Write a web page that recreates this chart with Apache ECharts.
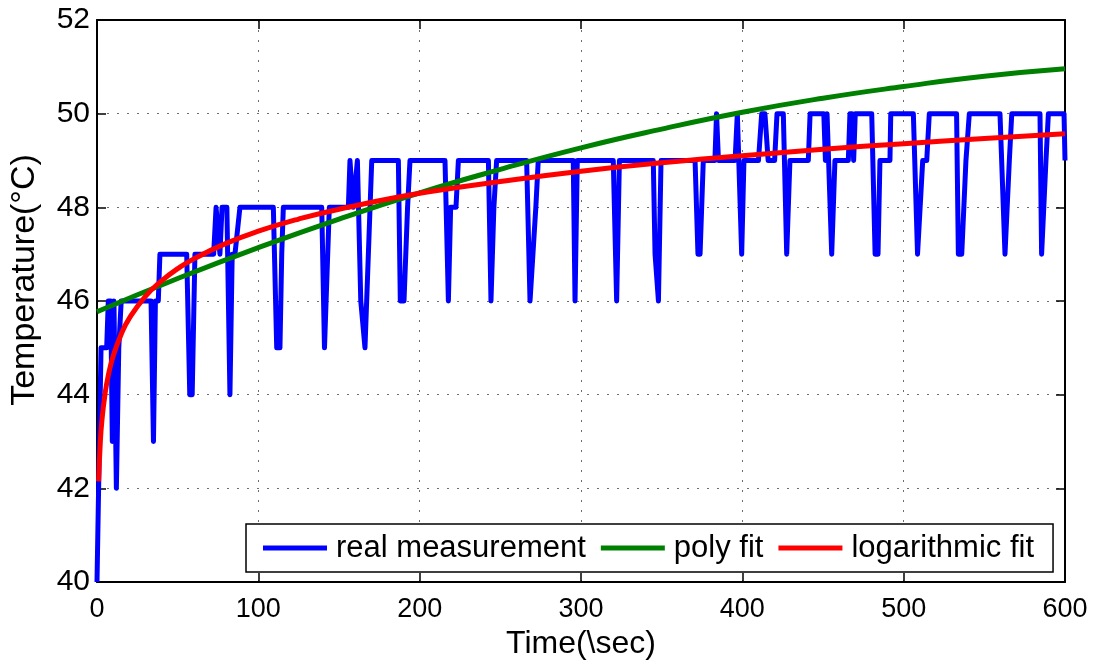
<!DOCTYPE html>
<html>
<head>
<meta charset="utf-8">
<script src="https://cdn.jsdelivr.net/npm/echarts@6/dist/echarts.min.js"></script>
<style>
html,body{margin:0;padding:0;background:#fff;}
#c{width:1096px;height:661px;}
</style>
</head>
<body>
<div id="c"></div>
<script>
// x ticks and y ticks
const xTicks = [0, 100, 200, 300, 400, 500, 600];
const yTicks = [40, 42, 44, 46, 48, 50, 52];

const measurement = [
  [0,40],[1,42],[2.5,45],[6,45],[7,46],[8.5,46],[9.5,43],[10.5,46],[12,42],[13.5,45],[15,46],
  [33.5,46],[35,43],[36.2,46],[38,46],[39,47],[55.6,47],[57.5,44],[59,44],[60.7,47],
  [72.3,47],[73.8,48],[75,48],[76.2,47],[77.5,48],[80.5,48],[82.4,44],[83.8,47],[85.5,47],[88.6,48],
  [109.3,48],[111.4,45],[113.4,45],[114.5,47],[115.5,48],[139.3,48],[141,45],[144,48],
  [155.8,48],[156.8,49],[158.8,48],[161.4,49],[163.5,46],[166.1,45],[170.3,49],
  [186.8,49],[188,46],[190.3,46],[192.5,48],[194,49],
  [215.7,49],[217.8,46],[219.2,48],[222.5,48],[224,49],
  [242.6,49],[244.2,46],[246,48],[247.7,49],
  [266.3,49],[268.4,46],[272,48],[273.5,49],
  [295.2,49],[296.3,46],[297.7,49],
  [320,49],[322.1,46],[323.8,49],
  [344.8,49],[345.9,47],[348,46],[349.6,49],
  [370.7,49],[372.5,47],[373.8,47],[375.8,49],
  [383,49],[384,50],[385.2,49],[395.5,49],[396.9,50],[399.6,47],[401,49],
  [410,49],[412,50],[414,50],[416,49],[420,49],[421.5,50],[425.4,50],[427.5,47],[429.5,49],
  [440.9,49],[442,50],[450.5,50],[451.5,49],[452.5,50],[455.4,47],[457.4,49],
  [465.7,49],[466.7,50],[468,50],[469,49],[470,50],[480.2,50],[482.3,47],[484.1,47],[485.3,49],
  [491.5,49],[492,50],[506,50],[508.6,47],[511.8,49],[514.3,49],[515.9,50],
  [532.8,50],[533.9,47],[536,47],[538.6,49],[540.7,50],
  [559.7,50],[562.8,47],[563.9,47],[565.5,49],[567,50],
  [584.5,50],[585.5,47],[586.6,47],[588.2,49],[589.7,50],[599.4,50],[600,49]
];

// poly fit: values read at sample times
const polyT = [0, 50, 100, 150, 200, 250, 300, 350, 400, 450, 500, 550, 600];
const polyV = [45.77, 46.48, 47.14, 47.75, 48.31, 48.81, 49.27, 49.67, 50.03, 50.33, 50.58, 50.80, 50.96];

// logarithmic fit: values read at sample times
const logT = [1, 2, 3, 5, 7, 10, 15, 20, 30, 40, 50, 60, 80, 100, 125, 150, 200, 250, 300, 350, 400, 450, 500, 550, 600];
const logV = [42.15, 42.95, 43.43, 44.02, 44.41, 44.82, 45.29, 45.63, 46.10, 46.43, 46.69, 46.90, 47.23, 47.49, 47.75, 47.96, 48.30, 48.55, 48.77, 48.95, 49.10, 49.24, 49.36, 49.47, 49.57];

const seriesNames = ['real measurement', 'poly fit', 'logarithmic fit'];

const polyData = polyT.map((t, i) => [t, polyV[i]]);
const logData = logT.map((t, i) => [t, logV[i]]);

const font = "'Liberation Sans', Arial, sans-serif";
const gridLine = { show: true, lineStyle: { color: '#6e6e6e', type: [2, 8], width: 1 } };
const tick = { show: true, inside: true, length: 9, lineStyle: { color: '#000', width: 1.5 } };
const axLine = { show: true, onZero: false, lineStyle: { color: '#000', width: 2 } };

const chart = echarts.init(document.getElementById('c'), null, { renderer: 'canvas' });
chart.setOption({
  animation: false,
  backgroundColor: '#fff',
  grid: { left: 97, right: 31, top: 20, bottom: 79, containLabel: false, outerBoundsMode: 'none' },
  legend: {
    data: seriesNames,
    left: 246, top: 524,
    orient: 'horizontal',
    backgroundColor: '#fff',
    borderColor: '#000', borderWidth: 1.5,
    padding: [6, 19, 6, 17],
    itemWidth: 64, itemHeight: 5, itemGap: 15,
    icon: 'rect',
    textStyle: { fontFamily: font, fontSize: 31, color: '#000', lineHeight: 36, padding: [0, 0, 0, 4] }
  },
  xAxis: [{
    type: 'value', min: xTicks[0], max: xTicks[xTicks.length - 1], interval: 100,
    position: 'bottom',
    axisLine: axLine, axisTick: tick,
    axisLabel: { color: '#000', fontFamily: font, fontSize: 27, margin: 14 },
    splitLine: gridLine,
    name: 'Time(\\sec)', nameLocation: 'middle', nameGap: 40,
    nameTextStyle: { color: '#000', fontFamily: font, fontSize: 32 }
  }, {
    type: 'value', min: xTicks[0], max: xTicks[xTicks.length - 1], interval: 100,
    position: 'top',
    axisLine: axLine, axisTick: tick,
    axisLabel: { show: false }, splitLine: { show: false }
  }],
  yAxis: [{
    type: 'value', min: yTicks[0], max: yTicks[yTicks.length - 1], interval: 2,
    position: 'left',
    axisLine: axLine, axisTick: tick,
    axisLabel: { color: '#000', fontFamily: font, fontSize: 30, margin: 7 },
    splitLine: gridLine,
    name: 'Temperature(°C)', nameLocation: 'middle', nameGap: 55, nameRotate: 90,
    nameTextStyle: { color: '#000', fontFamily: font, fontSize: 34, padding: [0, 0, 0, 42] }
  }, {
    type: 'value', min: yTicks[0], max: yTicks[yTicks.length - 1], interval: 2,
    position: 'right',
    axisLine: axLine, axisTick: tick,
    axisLabel: { show: false }, splitLine: { show: false }
  }],
  series: [{
    name: seriesNames[0], type: 'line', data: measurement, symbol: 'none',
    lineStyle: { color: '#0000ff', width: 5, join: 'round' }, itemStyle: { color: '#0000ff' }, z: 2
  }, {
    name: seriesNames[1], type: 'line', data: polyData, symbol: 'none', smooth: true,
    lineStyle: { color: '#008000', width: 5 }, itemStyle: { color: '#008000' }, z: 3
  }, {
    name: seriesNames[2], type: 'line', data: logData, symbol: 'none', smooth: true,
    lineStyle: { color: '#ff0000', width: 5 }, itemStyle: { color: '#ff0000' }, z: 4
  }]
});
</script>
</body>
</html>
